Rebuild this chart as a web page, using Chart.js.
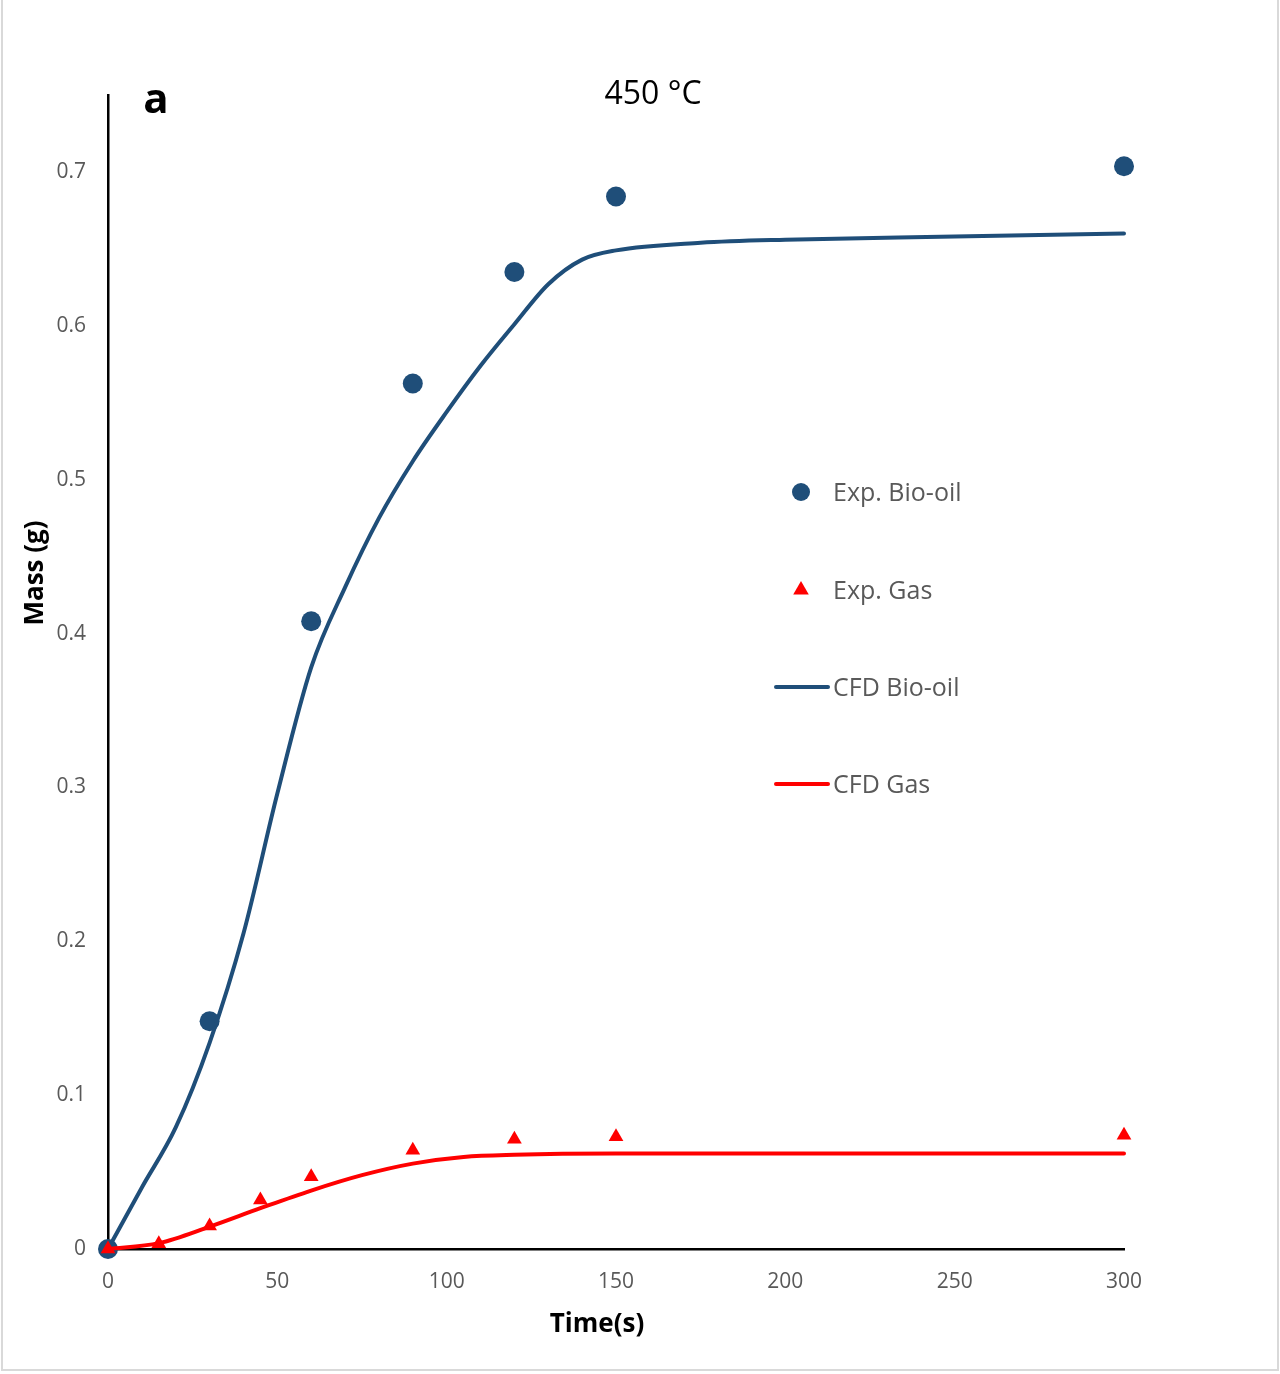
<!DOCTYPE html>
<html>
<head>
<meta charset="utf-8">
<script src="https://cdn.jsdelivr.net/npm/chart.js@4.4.1/dist/chart.umd.min.js"></script>
<style>
  html, body { margin: 0; padding: 0; background: #ffffff; }
  #wrap { width: 1280px; height: 1374px; position: relative; }
</style>
</head>
<body>
<div id="wrap"><canvas id="c" width="1280" height="1374"></canvas></div>
<script>
// ---- Data ----
const timeExpBio = [0, 30, 60, 90, 120, 150, 300];
const bioOilExp = [0, 0.148, 0.408, 0.5625, 0.635, 0.684, 0.7037];

const timeExpGas = [0, 15, 30, 45, 60, 90, 120, 150, 300];
const gasExp = [0, 0.0034, 0.015, 0.0318, 0.0469, 0.0642, 0.0714, 0.0729, 0.074];

const timeCfdBio = [0, 10, 20, 30, 40, 50, 60, 70, 80, 90, 100, 110, 120, 130, 140, 150, 175, 200, 250, 300];
const bioOilCfd = [0, 0.04, 0.079, 0.134, 0.205, 0.296, 0.378, 0.43, 0.475, 0.512, 0.544, 0.574, 0.601, 0.627, 0.643, 0.649, 0.654, 0.656, 0.658, 0.66];

const timeCfdGas = [0, 15, 30, 45, 60, 75, 90, 105, 120, 150, 200, 300];
const gasCfd = [0, 0.0038, 0.0145, 0.0265, 0.038, 0.048, 0.0555, 0.0598, 0.0612, 0.062, 0.062, 0.062];

const xTicks = [0, 50, 100, 150, 200, 250, 300];
const yTicks = [0, 0.1, 0.2, 0.3, 0.4, 0.5, 0.6, 0.7];

const seriesLabels = ['Exp. Bio-oil', 'Exp. Gas', 'CFD Bio-oil', 'CFD Gas'];
const chartTitle = '450 °C';
const panelLabel = 'a';
const xTitle = 'Time(s)';
const yTitle = 'Mass (g)';

const BLUE = '#1F4E79';
const RED = '#FF0000';
const GRAY = '#595959';
const FONT = "'Open Sans', 'Noto Sans', sans-serif";

const zip = (xs, ys) => xs.map((x, i) => ({ x: x, y: ys[i] }));

const decor = {
  id: 'decor',
  beforeDraw(chart) {
    const ctx = chart.ctx;
    ctx.save();
    ctx.fillStyle = '#ffffff';
    ctx.fillRect(0, 0, chart.width, chart.height);
    ctx.restore();
  },
  afterDraw(chart) {
    const ctx = chart.ctx;
    ctx.save();
    // outer frame
    ctx.strokeStyle = '#d9d9d9';
    ctx.lineWidth = 2;
    ctx.beginPath();
    ctx.moveTo(2, 0); ctx.lineTo(2, 1370);
    ctx.lineTo(1278, 1370); ctx.lineTo(1278, 0);
    ctx.stroke();

    // panel label
    ctx.fillStyle = '#000000';
    ctx.textAlign = 'center';
    ctx.textBaseline = 'alphabetic';
    ctx.font = "bold 42px " + FONT;
    ctx.fillText(panelLabel, 156, 113);
    // title
    ctx.font = "32px " + FONT;
    ctx.fillText(chartTitle, 653, 104);
    // x title
    ctx.font = "bold 26px " + FONT;
    ctx.textBaseline = 'middle';
    ctx.fillText(xTitle, 597, 1325);
    // y title
    ctx.save();
    ctx.translate(36, 573);
    ctx.rotate(-Math.PI / 2);
    ctx.fillText(yTitle, 0, 0);
    ctx.restore();

    // legend
    const ds = chart.data.datasets;
    const byLabel = l => ds.find(d => d.label === l);
    const rows = [492, 590, 687, 784];
    ctx.font = "25px " + FONT;
    ctx.textAlign = 'left';
    ctx.textBaseline = 'middle';
    seriesLabels.forEach((lab, i) => {
      const d = byLabel(lab);
      const y = rows[i];
      if (d.showLine === false) {
        ctx.fillStyle = d.pointBackgroundColor;
        ctx.beginPath();
        if (d.pointStyle === 'triangle') {
          const r = 9;
          ctx.moveTo(801, y - r);
          ctx.lineTo(801 + r * 0.866, y + r * 0.5);
          ctx.lineTo(801 - r * 0.866, y + r * 0.5);
          ctx.closePath();
        } else {
          ctx.arc(801, y, 9, 0, Math.PI * 2);
        }
        ctx.fill();
      } else {
        ctx.strokeStyle = d.borderColor;
        ctx.lineWidth = 4;
        ctx.lineCap = 'round';
        ctx.beginPath();
        ctx.moveTo(776, y);
        ctx.lineTo(828, y);
        ctx.stroke();
      }
      ctx.fillStyle = GRAY;
      ctx.fillText(lab, 833, y + 2);
    });
    ctx.restore();
  }
};

new Chart(document.getElementById('c'), {
  type: 'scatter',
  data: {
    datasets: [
      {
        label: seriesLabels[1],
        data: zip(timeExpGas, gasExp),
        showLine: false,
        pointStyle: 'triangle',
        pointRadius: 8.5,
        pointHoverRadius: 8.5,
        pointBackgroundColor: RED,
        pointBorderColor: RED,
        pointBorderWidth: 0,
        clip: false
      },
      {
        label: seriesLabels[3],
        data: zip(timeCfdGas, gasCfd),
        showLine: true,
        borderColor: RED,
        borderWidth: 4,
        pointRadius: 0,
        pointHoverRadius: 0,
        cubicInterpolationMode: 'monotone',
        borderCapStyle: 'round',
        clip: false
      },
      {
        label: seriesLabels[2],
        data: zip(timeCfdBio, bioOilCfd),
        showLine: true,
        borderColor: BLUE,
        borderWidth: 4,
        pointRadius: 0,
        pointHoverRadius: 0,
        cubicInterpolationMode: 'monotone',
        borderCapStyle: 'round',
        clip: false
      },
      {
        label: seriesLabels[0],
        data: zip(timeExpBio, bioOilExp),
        showLine: false,
        pointStyle: 'circle',
        pointRadius: 10,
        pointHoverRadius: 10,
        pointBackgroundColor: BLUE,
        pointBorderColor: BLUE,
        pointBorderWidth: 0,
        clip: false
      }
    ]
  },
  options: {
    responsive: false,
    animation: false,
    events: [],
    layout: { padding: { top: 95, right: 156, left: 0, bottom: 0 } },
    plugins: { legend: { display: false }, tooltip: { enabled: false }, title: { display: false } },
    scales: {
      x: {
        type: 'linear',
        min: 0,
        max: 300,
        grid: { display: false, drawTicks: false },
        border: { display: true, color: '#000000', width: 2.5 },
        afterBuildTicks: s => { s.ticks = xTicks.map(v => ({ value: v })); },
        afterFit: s => { s.height = 125; s.paddingLeft = 0; s.paddingRight = 0; },
        ticks: { color: GRAY, font: { family: FONT, size: 21 }, padding: 20, maxRotation: 0, callback: v => String(v) }
      },
      y: {
        type: 'linear',
        min: 0,
        max: 0.75,
        grid: { display: false, drawTicks: false },
        border: { display: true, color: '#000000', width: 2.5 },
        afterBuildTicks: s => { s.ticks = yTicks.map(v => ({ value: v })); },
        afterFit: s => { s.width = 108; s.paddingTop = 0; s.paddingBottom = 0; },
        ticks: { color: GRAY, font: { family: FONT, size: 21 }, padding: 22, callback: v => String(Math.round(v * 10) / 10) }
      }
    }
  },
  plugins: [decor]
});
</script>
</body>
</html>
